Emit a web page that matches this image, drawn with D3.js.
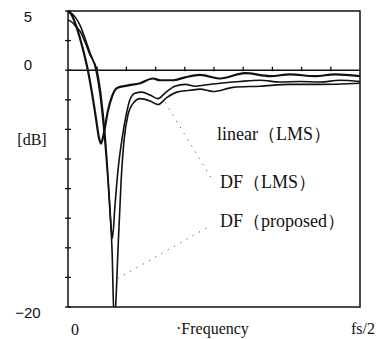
<!DOCTYPE html>
<html>
<head>
<meta charset="utf-8">
<script src="https://cdn.jsdelivr.net/npm/d3@7"></script>
<style>
  body { margin: 0; background: #fff; }
</style>
</head>
<body>
<div id="chart"></div>
<script>
// normalized frequency (0 .. fs/2) and magnitude in dB
var linearF  = [0, .014, .027, .041, .055, .068, .082, .096, .106, .113, .123, .137, .151, .168, .202, .247, .291, .315, .360, .401, .452, .521, .606, .692, .760, .846, .914, 1];
var linearDb = [5.0, 4.6, 3.8, 2.7, 1.4, 0, -1.9, -4.1, -5.7, -6.2, -5.3, -3.4, -2.2, -1.5, -1.3, -1.1, -0.7, -0.85, -0.85, -0.6, -0.4, -0.7, -0.25, -0.5, -0.35, -0.5, -0.35, -0.5];

var dfLmsF  = [0, .014, .027, .041, .058, .075, .096, .110, .123, .137, .147, .152, .161, .171, .185, .199, .212, .229, .253, .281, .308, .336, .366, .401, .435, .469, .521, .589, .658, .726, .795, .863, .932, 1];
var dfLmsDb = [5.0, 4.75, 4.4, 3.8, 2.7, 1.5, 0, -2.1, -5.1, -9.3, -13.1, -14.2, -11.4, -8.5, -5.8, -3.8, -2.5, -1.95, -1.85, -2.1, -2.4, -1.85, -1.35, -1.2, -1.35, -1.25, -1.1, -0.95, -0.85, -1.0, -0.95, -1.0, -0.85, -0.95];

var dfPropF  = [0, .014, .027, .041, .058, .075, .099, .113, .127, .140, .151, .158, .164, .171, .182, .192, .205, .223, .247, .281, .308, .339, .373, .418, .452, .497, .565, .658, .760, .863, 1];
var dfPropDb = [4.25, 4.05, 3.7, 3.3, 2.4, 1.3, 0, -2.1, -5.5, -10.2, -15.3, -21.2, -19.5, -15.3, -9.3, -5.9, -3.8, -2.8, -2.4, -2.6, -2.9, -2.3, -1.85, -1.7, -1.6, -1.8, -1.45, -1.35, -1.2, -1.2, -1.1];

var yTicks = [5, 2.5, 0, -2.5, -5, -7.5, -10, -12.5, -15, -17.5, -20];
var yLabels = [5, 0, -20];
var xTicks = [.1, .2, .3, .4, .5, .6, .7, .8, .9];

// labels with the curve point each leader points at: [f, dB]
var labels = ["linear（LMS）", "DF（LMS）", "DF（proposed）"];
var leaderFrom = [null, [.32, -2.2], [.17, -17.6]];
var leaderTo   = [null, [.50, -9.5], [.49, -13.1]];

var serif = "'Liberation Serif', 'DejaVu Serif', 'Times New Roman', serif";

var svg = d3.select("#chart").append("svg")
    .attr("width", 382)
    .attr("height", 339);

var x = d3.scaleLinear().domain([0, 1]).range([68, 360]);
var y = d3.scaleLinear().domain([-20, 5]).range([307, 11]);

svg.append("clipPath").attr("id", "plotClip")
    .append("rect")
    .attr("x", x(0)).attr("y", y(5))
    .attr("width", x(1) - x(0)).attr("height", y(-20) - y(5));

// frame
svg.append("rect")
    .attr("x", x(0)).attr("y", y(5))
    .attr("width", x(1) - x(0)).attr("height", y(-20) - y(5))
    .attr("fill", "none")
    .attr("stroke", "#111")
    .attr("stroke-width", 1.5);

// zero line with its small ticks
svg.append("line")
    .attr("x1", x(0)).attr("x2", x(1))
    .attr("y1", y(0)).attr("y2", y(0))
    .attr("stroke", "#111").attr("stroke-width", 1.5);

svg.selectAll(".xt").data(xTicks).enter().append("line")
    .attr("x1", function(d){ return x(d); })
    .attr("x2", function(d){ return x(d); })
    .attr("y1", y(0) - 3.5).attr("y2", y(0) + 1)
    .attr("stroke", "#111").attr("stroke-width", 1.3);

// y ticks crossing the left axis
svg.selectAll(".yt").data(yTicks).enter().append("line")
    .attr("x1", x(0) - 3).attr("x2", x(0) + 3)
    .attr("y1", function(d){ return y(d); })
    .attr("y2", function(d){ return y(d); })
    .attr("stroke", "#111").attr("stroke-width", 1.3);

svg.selectAll(".yl").data(yLabels).enter().append("text")
    .attr("x", 28)
    .attr("y", function(d){ return y(d) + (d === 0 ? 0 : 11); })
    .attr("text-anchor", "middle")
    .attr("fill", "#111")
    .style("font-family", "'Liberation Sans', Arial, sans-serif")
    .style("font-size", "15px")
    .text(function(d){ return d < 0 ? "\u2212" + Math.abs(d) : d; });

svg.append("text")
    .attr("x", 32).attr("y", 145)
    .attr("text-anchor", "middle")
    .attr("fill", "#111")
    .style("font-family", serif)
    .style("font-size", "16px")
    .text("[dB]");

// x axis labels
var xLab = svg.append("g")
    .attr("fill", "#111")
    .style("font-family", serif)
    .style("font-size", "16px");
xLab.append("text").attr("x", x(0) + 7).attr("y", 335)
    .attr("text-anchor", "middle").text("0");
xLab.append("text").attr("x", 176).attr("y", 334).text("·Frequency");
xLab.append("text").attr("x", 363).attr("y", 334)
    .attr("text-anchor", "middle").text("fs/2");

// curves
var line = d3.line()
    .x(function(d){ return x(d[0]); })
    .y(function(d){ return y(d[1]); })
    .curve(d3.curveMonotoneX);

var series = [
    { f: linearF, db: linearDb, w: 2.2 },
    { f: dfLmsF, db: dfLmsDb, w: 1.6 },
    { f: dfPropF, db: dfPropDb, w: 1.6 }
];

var plot = svg.append("g").attr("clip-path", "url(#plotClip)");
series.forEach(function(s){
    plot.append("path")
        .datum(d3.zip(s.f, s.db))
        .attr("d", line)
        .attr("fill", "none")
        .attr("stroke", "#111")
        .attr("stroke-width", s.w)
        .attr("stroke-linejoin", "round");
});

// dotted leaders
labels.forEach(function(t, i){
    if (!leaderFrom[i]) return;
    svg.append("line")
        .attr("x1", x(leaderFrom[i][0])).attr("y1", y(leaderFrom[i][1]))
        .attr("x2", x(leaderTo[i][0])).attr("y2", y(leaderTo[i][1]))
        .attr("stroke", "#555")
        .attr("stroke-width", 1)
        .attr("stroke-dasharray", "1.2,6");
});

// curve labels
var labelX = [217, 220, 220];
var labelY = [140, 188, 227];
labels.forEach(function(t, i){
    svg.append("text")
        .attr("x", labelX[i]).attr("y", labelY[i])
        .attr("fill", "#111")
        .style("font-family", serif)
        .style("font-size", "18px")
        .text(t);
});
</script>
</body>
</html>
